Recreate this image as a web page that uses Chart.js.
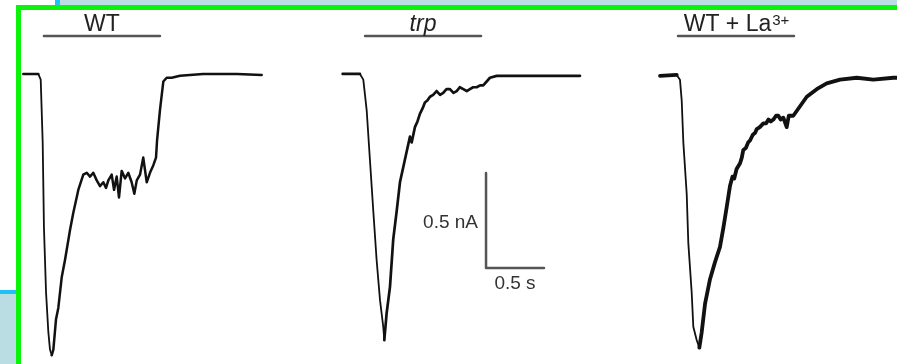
<!DOCTYPE html>
<html>
<head>
<meta charset="utf-8">
<script src="https://cdn.jsdelivr.net/npm/chart.js@4"></script>
<style>
  body { margin: 0; background: #fff; }
  #wrap { position: relative; width: 897px; height: 364px; overflow: hidden; }
  .deco { position: absolute; }
  canvas { position: absolute; left: 0; top: 0; }
</style>
</head>
<body>
<div id="wrap">
  <div class="deco" style="left:60px;top:0;width:837px;height:5px;background:#b9dde2"></div>
  <div class="deco" style="left:55px;top:0;width:5px;height:5px;background:#1fc2f2"></div>
  <div class="deco" style="left:0;top:290px;width:16px;height:4px;background:#1fc2f2"></div>
  <div class="deco" style="left:0;top:294px;width:16px;height:70px;background:#b9dde2"></div>
  <div class="deco" style="left:16px;top:5px;width:881px;height:5px;background:#0bf20b"></div>
  <div class="deco" style="left:16px;top:5px;width:5px;height:359px;background:#0bf20b"></div>
  <canvas id="traces" width="897" height="364"></canvas>
</div>
<script>
// panel names and where each recording starts on the shared time axis (s)
const panels = ['WT', 'trp', 'WT + La'];
const panelStart = [0.201, 2.954, 5.690];
// light stimulus (bar above each trace), start relative to panel, duration in s
const stimStart = [0.178, 0.193, 0.155];
const stimDur = 1.0;

// photoreceptor currents, time (s) vs current (nA)
const wtTime = [0, 0.129, 0.150, 0.167, 0.178, 0.196, 0.216, 0.230, 0.245, 0.259,
  0.282, 0.302, 0.331, 0.359, 0.403, 0.431, 0.460, 0.474, 0.517, 0.547,
  0.575, 0.603, 0.633, 0.661, 0.690, 0.713, 0.733, 0.762, 0.782, 0.805,
  0.825, 0.848, 0.877, 0.905, 0.934, 0.957, 0.978, 1.006, 1.034, 1.064,
  1.092, 1.121, 1.144, 1.153, 1.178, 1.207, 1.236, 1.279, 1.351, 1.549,
  1.842, 2.055];
const wtCurrent = [0, 0, -0.03, -0.36, -0.81, -1.15, -1.36, -1.45, -1.48, -1.45,
  -1.29, -1.23, -1.07, -0.98, -0.82, -0.73, -0.65, -0.61, -0.53, -0.52,
  -0.54, -0.52, -0.56, -0.59, -0.57, -0.60, -0.56, -0.53, -0.61, -0.54,
  -0.65, -0.51, -0.55, -0.52, -0.57, -0.63, -0.56, -0.53, -0.44, -0.57,
  -0.52, -0.48, -0.44, -0.35, -0.19, -0.04, -0.02, -0.02, -0.01, 0,
  0, -0.005];

const trpTime = [0, 0.149, 0.178, 0.207, 0.235, 0.264, 0.293, 0.322, 0.350, 0.359,
  0.379, 0.408, 0.436, 0.466, 0.494, 0.537, 0.580, 0.595, 0.623, 0.645,
  0.666, 0.690, 0.709, 0.730, 0.753, 0.780, 0.810, 0.840, 0.867, 0.895,
  0.925, 0.955, 0.983, 1.010, 1.040, 1.070, 1.097, 1.125, 1.155, 1.185,
  1.212, 1.270, 1.328, 1.468, 1.759, 2.046];
const trpCurrent = [0, 0, -0.03, -0.19, -0.45, -0.72, -0.98, -1.19, -1.33, -1.40,
  -1.26, -1.12, -0.87, -0.72, -0.57, -0.45, -0.33, -0.36, -0.28, -0.25,
  -0.21, -0.18, -0.15, -0.14, -0.12, -0.11, -0.09, -0.11, -0.10, -0.08,
  -0.08, -0.10, -0.09, -0.07, -0.08, -0.09, -0.08, -0.07, -0.07, -0.06,
  -0.06, -0.02, -0.01, -0.01, -0.01, -0.01];

const laTime = [0, 0.144, 0.172, 0.187, 0.201, 0.230, 0.244, 0.273, 0.287, 0.316,
  0.339, 0.359, 0.388, 0.431, 0.474, 0.517, 0.546, 0.575, 0.603, 0.625,
  0.640, 0.660, 0.690, 0.705, 0.718, 0.740, 0.760, 0.776, 0.800, 0.820,
  0.834, 0.860, 0.891, 0.915, 0.935, 0.955, 0.977, 1.000, 1.020, 1.040,
  1.063, 1.092, 1.110, 1.149, 1.207, 1.265, 1.351, 1.437, 1.552, 1.696,
  1.839, 2.011, 2.069];
const laCurrent = [-0.01, -0.005, -0.03, -0.14, -0.36, -0.63, -0.89, -1.15, -1.33, -1.40,
  -1.44, -1.36, -1.21, -1.08, -0.99, -0.91, -0.81, -0.70, -0.59, -0.54,
  -0.55, -0.50, -0.47, -0.44, -0.40, -0.39, -0.36, -0.35, -0.32, -0.31,
  -0.29, -0.28, -0.26, -0.26, -0.24, -0.25, -0.24, -0.22, -0.22, -0.24,
  -0.23, -0.28, -0.22, -0.22, -0.17, -0.12, -0.08, -0.05, -0.03, -0.02,
  -0.03, -0.02, -0.02];

// scale bar: corner position and lengths (s, nA)
const scaleBarOrigin = [4.19, -1.021];
const scaleBarSize = [0.5, 0.5];
const scaleBarLabels = ['0.5 nA', '0.5 s'];

const stimLevel = 0.2; // nA, height of the stimulus bars

const traces = [[wtTime, wtCurrent], [trpTime, trpCurrent], [laTime, laCurrent]];
const recoverWidth = [2.5, 2.7, 3.8];

let datasets = traces.map((tr, i) => {
  const minIdx = tr[1].indexOf(Math.min(...tr[1]));
  return {
    data: tr[0].map((t, k) => ({ x: panelStart[i] + t, y: tr[1][k] })),
    borderColor: '#111',
    borderWidth: 2,
    segment: {
      // falling phase is thin, the noisy recovery is drawn thicker
      borderWidth: ctx => (ctx.p0DataIndex >= 1 && ctx.p1DataIndex <= minIdx) ? 1.8 : recoverWidth[i]
    }
  };
});

panels.forEach((p, i) => {
  let s = panelStart[i] + stimStart[i];
  datasets.push({
    data: [{ x: s, y: stimLevel }, { x: s + stimDur, y: stimLevel }],
    borderColor: '#555', borderWidth: 2.5
  });
});

datasets.push({
  data: [
    { x: scaleBarOrigin[0], y: scaleBarOrigin[1] + scaleBarSize[1] },
    { x: scaleBarOrigin[0], y: scaleBarOrigin[1] },
    { x: scaleBarOrigin[0] + scaleBarSize[0], y: scaleBarOrigin[1] }
  ],
  borderColor: '#555', borderWidth: 2.5
});

const textPlugin = {
  id: 'texts',
  afterDatasetsDraw(chart) {
    const c = chart.ctx;
    const xs = chart.scales.x, ys = chart.scales.y;
    const big = '23px "Liberation Sans", Arial, sans-serif';
    const small = '15px "Liberation Sans", Arial, sans-serif';
    c.save();
    c.fillStyle = '#222';
    const yBar = ys.getPixelForValue(stimLevel);
    panels.forEach((p, i) => {
      let xc = xs.getPixelForValue(panelStart[i] + stimStart[i] + stimDur / 2);
      c.textBaseline = 'alphabetic';
      if (i === 1) {
        c.font = 'italic ' + big;
        c.textAlign = 'center';
        c.fillText(p, xc, yBar - 5);
      } else if (i === 2) {
        c.font = big;
        let w1 = c.measureText(p).width;
        c.font = small;
        let w2 = c.measureText('3+').width;
        let x0 = xc - (w1 + w2) / 2;
        c.textAlign = 'left';
        c.font = big;
        c.fillText(p, x0, yBar - 5);
        c.font = small;
        c.fillText('3+', x0 + w1 + 1, yBar - 11);
      } else {
        c.font = big;
        c.textAlign = 'center';
        c.fillText(p, xc, yBar - 5);
      }
    });
    // scale bar labels
    c.fillStyle = '#333';
    c.font = '19px "Liberation Sans", Arial, sans-serif';
    c.textAlign = 'right';
    c.textBaseline = 'middle';
    c.fillText(scaleBarLabels[0], xs.getPixelForValue(scaleBarOrigin[0]) - 8,
      ys.getPixelForValue(scaleBarOrigin[1] + scaleBarSize[1] / 2) + 2);
    c.textAlign = 'center';
    c.textBaseline = 'top';
    c.fillText(scaleBarLabels[1], xs.getPixelForValue(scaleBarOrigin[0] + scaleBarSize[0] / 2),
      ys.getPixelForValue(scaleBarOrigin[1]) + 6);
    c.restore();
  }
};

new Chart(document.getElementById('traces'), {
  type: 'line',
  data: { datasets: datasets },
  options: {
    responsive: false,
    animation: false,
    devicePixelRatio: 1,
    layout: { padding: 0 },
    elements: { point: { radius: 0 }, line: { tension: 0, borderJoinStyle: 'round', borderCapStyle: 'round' } },
    plugins: { legend: { display: false }, tooltip: { enabled: false } },
    scales: {
      x: { type: 'linear', min: 0, max: 7.733, display: false },
      y: { min: -1.526, max: 0.389, display: false }
    }
  },
  plugins: [textPlugin]
});
</script>
</body>
</html>
